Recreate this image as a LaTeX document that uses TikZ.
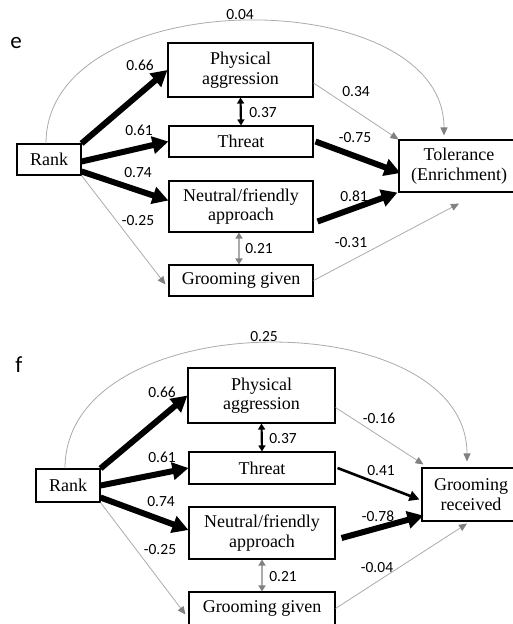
\documentclass[tikz,border=0pt]{standalone}
\usepackage{fontspec}
\setmainfont{Liberation Serif}
\newfontfamily\lab{Carlito}
\usetikzlibrary{arrows.meta,calc}
\definecolor{lgray}{HTML}{ABABAB}
\definecolor{hgray}{HTML}{808080}
\tikzset{
 box/.style={draw=black,line width=1.1pt,rectangle,inner sep=0pt,align=center,font=\fontsize{18}{19.5}\selectfont},
 num/.style={inner sep=0pt,font=\lab\fontsize{15.5}{18}\selectfont},
 panel/.style={inner sep=0pt,font=\lab\fontsize{23}{26}\selectfont},
 big/.style={line width=6pt,-{Triangle[length=16pt,width=17pt]}},
 mid/.style={line width=2.6pt,-{Triangle[length=10pt,width=10pt]}},
 dbl/.style={line width=2.2pt,{Triangle[length=6pt,width=7pt]}-{Triangle[length=6pt,width=7pt]}},
 gdbl/.style={lgray,line width=2pt,{Triangle[length=6pt,width=7pt,color=hgray]}-{Triangle[length=6pt,width=7pt,color=hgray]}},
 thin/.style={lgray,line width=0.8pt,-{Triangle[length=8pt,width=7pt,color=hgray]}},
}
\begin{document}
\begin{tikzpicture}[x=1pt,y=-1pt]
\useasboundingbox (0,0) rectangle (513,624);
% ---------------- panel e
\node[panel] (labE) at (16,43) {e};
\node[box,minimum width=145pt,minimum height=54pt] (paE) at (240.5,70) {Physical\\aggression};
\node[box,minimum width=144pt,minimum height=31pt] (thE) at (241,141.5) {Threat};
\node[box,minimum width=144pt,minimum height=51pt] (nfE) at (241,206.5) {Neutral/friendly\\approach};
\node[box,minimum width=144pt,minimum height=31pt] (ggE) at (241,280.5) {Grooming given};
\node[box,minimum width=64pt,minimum height=31pt] (rankE) at (49,159.5) {Rank};
\node[box,minimum width=120pt,minimum height=52pt] (tolE) at (459,166) {Tolerance\\(Enrichment)};

\draw[thin] ([xshift=-3pt]rankE.north) .. controls +(0,-162) and +(0,-154) .. ([xshift=-15pt,yshift=4pt]tolE.north);
\draw[big] (rankE.north east) -- (paE.west);
\draw[big] ([yshift=-2pt]rankE.east) -- (thE.west);
\draw[big] ([yshift=-12pt]rankE.east) -- ([yshift=6pt]nfE.west);
\draw[thin] (rankE.south east) -- ([xshift=-3pt,yshift=-4pt]ggE.west);
\draw[dbl] (paE.south) -- (thE.north);
\draw[gdbl] ([xshift=-2pt]nfE.south) -- ([xshift=-2pt]ggE.north);
\draw[thin] ([yshift=-13pt]paE.east) -- (tolE.north west);
\draw[big] ([xshift=2pt]thE.east) -- ([xshift=2pt,yshift=-7pt]tolE.west);
\draw[big] ([xshift=4pt,yshift=-15pt]nfE.east) -- ([xshift=-1pt]tolE.south west);
\draw[thin] (ggE.east) -- ([yshift=-11pt]tolE.south);

\node[num] (nE04) at (240,15) {0.04};
\node[num] (nE66) at (140,65) {0.66};
\node[num] (nE61) at (139,130) {0.61};
\node[num] (nE74) at (138,173) {0.74};
\node[num] (nE25) at (138,221) {-0.25};
\node[num] (nE37) at (263,113) {0.37};
\node[num] (nE34) at (356,92) {0.34};
\node[num] (nE75) at (355,138) {-0.75};
\node[num] (nE81) at (354,196) {0.81};
\node[num] (nE31) at (351,243) {-0.31};
\node[num] (nE21) at (259,249) {0.21};

% ---------------- panel f
\node[panel] (labF) at (19,365) {f};
\node[box,minimum width=147pt,minimum height=55pt] (paF) at (261.5,395.5) {Physical\\aggression};
\node[box,minimum width=146pt,minimum height=32pt] (thF) at (262,468) {Threat};
\node[box,minimum width=146pt,minimum height=52pt] (nfF) at (262,533) {Neutral/friendly\\approach};
\node[box,minimum width=146pt,minimum height=33pt] (ggF) at (262,608.5) {Grooming given};
\node[box,minimum width=64pt,minimum height=33pt] (rankF) at (68,485.5) {Rank};
\node[box,minimum width=98pt,minimum height=53pt] (grF) at (471,494.5) {Grooming\\received};

\draw[thin] ([xshift=-3pt]rankF.north) .. controls +(0,-166) and +(0,-159) .. ([xshift=-4pt,yshift=6pt]grF.north);
\draw[big] (rankF.north east) -- (paF.west);
\draw[big] (rankF.east) -- (thF.west);
\draw[big] ([yshift=-12pt]rankF.east) -- ([yshift=3pt]nfF.west);
\draw[thin] (rankF.south east) -- ([xshift=-3pt,yshift=-6pt]ggF.west);
\draw[dbl] (paF.south) -- (thF.north);
\draw[gdbl] (nfF.south) -- (ggF.north);
\draw[thin] ([yshift=-12pt]paF.east) -- ([xshift=2pt,yshift=3pt]grF.north west);
\draw[mid] ([xshift=2pt]thF.east) -- ([xshift=-2pt,yshift=-5pt]grF.west);
\draw[big] ([xshift=6pt,yshift=-5pt]nfF.east) -- ([xshift=2pt,yshift=6pt]grF.south west);
\draw[thin] (ggF.east) -- ([xshift=-4pt,yshift=-2pt]grF.south);

\node[num] (nF25) at (264,337) {0.25};
\node[num] (nF66) at (162,392) {0.66};
\node[num] (nF61) at (162,457) {0.61};
\node[num] (nF74) at (161,502) {0.74};
\node[num] (nFm25) at (160,550) {-0.25};
\node[num] (nF37) at (283,439) {0.37};
\node[num] (nF16) at (379,418) {-0.16};
\node[num] (nF41) at (381,471) {0.41};
\node[num] (nF78) at (378,516) {-0.78};
\node[num] (nF04) at (377,568) {-0.04};
\node[num] (nF21) at (283,577) {0.21};
\end{tikzpicture}
\end{document}
